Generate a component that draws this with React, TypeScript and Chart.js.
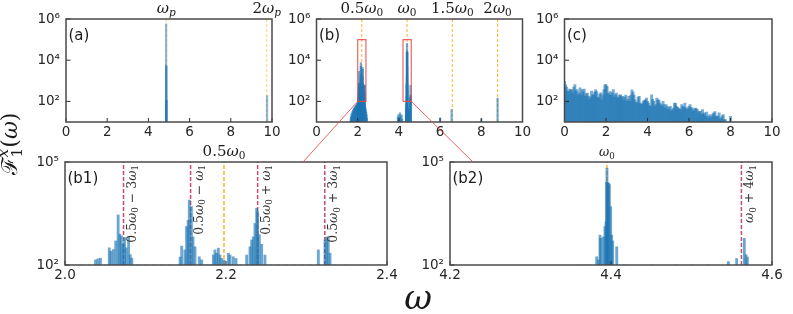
import React, { useEffect, useRef } from 'react';
import { Chart, registerables } from 'chart.js';

Chart.register(...registerables);

const W = 793;
const H = 314;
const YW = 40; // y-axis box width
const XH = 22; // x-axis box height

// ---------------- data ----------------
// ticks
const topXTicks = [0, 2, 4, 6, 8, 10];
const topYTicks = [1e2, 1e4, 1e6];
const b1XTicks = [2.0, 2.2, 2.4];
const b2XTicks = [4.2, 4.4, 4.6];
const zoomYTicks = [1e2, 1e5];

// panel (a)
const aFreq = [4.86, 4.865, 4.87, 4.872, 4.875, 9.76];
const aAmp = [580000, 5500, 5000, 120, 110, 190];
const aMarks = [4.87, 9.74];
const aMarkLabels = ['ω_p', '2ω_p'];

// panel (b) spectrum (also shown zoomed in b1 and b2)
const bFreq = [
  1.66, 1.68, 1.70, 1.72, 1.74, 1.76, 1.78, 1.80, 1.82, 1.84, 1.86, 1.88, 1.90, 1.92, 1.94, 1.96, 1.98,
  2.00, 2.01, 2.02, 2.03, 2.038, 2.041, 2.044, 2.05, 2.055, 2.057, 2.060, 2.063, 2.066, 2.068, 2.070,
  2.072, 2.074, 2.076, 2.079, 2.081, 2.083, 2.09, 2.10, 2.11, 2.12, 2.13, 2.143, 2.145, 2.149, 2.151,
  2.153, 2.1544, 2.157, 2.159, 2.1615, 2.1668, 2.1698, 2.175, 2.18, 2.1843, 2.1863, 2.1884, 2.1905,
  2.1925, 2.1946, 2.1975, 2.2029, 2.205, 2.209, 2.2124, 2.218, 2.2257, 2.2298, 2.2319, 2.2339, 2.236,
  2.2381, 2.2393, 2.2414, 2.2443, 2.2484, 2.255, 2.265, 2.275, 2.285, 2.295, 2.305, 2.3147, 2.323,
  2.325, 2.327, 2.3292, 2.335, 2.35, 2.37, 2.39, 2.41, 2.43, 2.45,
  3.95, 3.98, 4.02, 4.05, 4.08, 4.13, 4.16, 4.36, 4.37, 4.375, 4.3822, 4.3843, 4.3863, 4.3872, 4.3905,
  4.3925, 4.3938, 4.3945, 4.3950, 4.3960, 4.3970, 4.3980, 4.3996, 4.4008, 4.4021, 4.4071, 4.415, 4.42,
  4.45, 4.48, 4.50, 4.52, 4.5458, 4.5561, 4.5656, 4.5677, 4.5694,
  6.00, 6.56, 8.00, 8.79,
];
const bAmp = [
  14, 18, 25, 20, 32, 28, 40, 35, 48, 42, 55, 50, 62, 58, 70, 65, 80,
  72, 85, 78, 90, 141, 151, 158, 88, 316, 251, 282, 501, 2880, 794, 708,
  398, 631, 316, 631, 200, 158, 92, 85, 90, 88, 95, 170, 355, 275, 1320,
  2000, 7760, 5010, 660, 340, 174, 141, 92, 85, 195, 275, 220, 309,
  195, 155, 140, 220, 195, 174, 155, 90, 195, 339, 537, 660, 1620,
  4470, 3630, 760, 400, 195, 92, 85, 88, 80, 75, 70, 275, 537,
  660, 600, 220, 70, 60, 50, 40, 30, 22, 15,
  18, 23, 16, 28, 20, 22, 14, 40, 55, 70, 174, 141, 741, 600, 660,
  1320, 1800, 26000, 66000, 25000, 24000, 22000, 5000, 741, 500, 339, 60, 45,
  30, 35, 25, 40, 126, 155, 600, 200, 170,
  16, 40, 14, 145,
];
const bMarks = [2.1975, 4.395, 6.5925, 8.79];
const bMarkLabels = ['0.5ω_0', 'ω_0', '1.5ω_0', '2ω_0'];
const insetX1 = [2.0, 2.4];
const insetX2 = [4.2, 4.6];
const insetY = [1e2, 1e5];

// panel (c)
const cStart = 0;
const cStep = 0.05;
const cAmp = [
  930, 630, 500, 320, 300, 400, 350, 370, 250, 500, 650, 320, 370, 200, 260, 450, 200, 370, 280, 400,
  175, 225, 250, 175, 125, 160, 320, 200, 210, 280, 370, 300, 160, 145, 225, 260, 120, 200, 370, 630,
  650, 540, 250, 210, 300, 200, 260, 370, 160, 210, 250, 160, 145, 200, 210, 160, 175, 120, 160, 200,
  100, 125, 175, 100, 200, 360, 280, 200, 120, 90, 83, 160, 175, 83, 70, 76, 100, 112, 120, 145,
  100, 83, 63, 58, 210, 125, 100, 58, 70, 145, 112, 120, 83, 71, 58, 100, 70, 48, 70, 56,
  40, 50, 58, 33, 40, 48, 83, 80, 58, 52, 48, 40, 42, 70, 58, 50, 83, 50, 40, 45,
  58, 70, 50, 48, 33, 40, 48, 45, 40, 28, 32, 33, 23, 40, 25, 28, 20, 30, 16, 19,
  23, 16, 20, 25, 28, 32, 19, 18, 20, 28, 14, 16, 20, 23, 13, 13, 9, 8, 9, 9, 19,
];

// zoom panels
const b1Center = 2.1975;
const b1Marks = [2.0727, 2.156, 2.2393, 2.3227];
const b1MarkLabels = ['0.5ω_0 − 3ω_1', '0.5ω_0 − ω_1', '0.5ω_0 + ω_1', '0.5ω_0 + 3ω_1'];
const b2Center = 4.395;
const b2Marks = [4.562];
const b2MarkLabels = ['ω_0 + 4ω_1'];
const connect1 = { from: [2.0, 1e2], to: [2.2957, 1e5] };
const connect2 = { from: [4.6, 1e2], to: [4.2286, 1e5] };

// ---------------- styles ----------------
const ORANGE_A = 'rgba(255,165,0,0.45)';
const ORANGE = 'rgba(255,165,0,0.85)';
const CRIMSON = 'rgba(190,45,85,0.85)';
const RED = 'rgba(240,70,70,0.85)';
const SUP: Record<string, string> = { '0': '⁰', '1': '¹', '2': '²', '3': '³', '4': '⁴', '5': '⁵', '6': '⁶', '7': '⁷', '8': '⁸', '9': '⁹' };
const barColor = (alpha: number) => `rgba(31,119,180,${alpha})`;

function drawMath(ctx: CanvasRenderingContext2D, s: string, x: number, y: number, size: number, align: string, color: string) {
  const toks: { ch: string; kind: string }[] = [];
  for (let i = 0; i < s.length; i++) {
    const c = s[i];
    if ((c === '_' || c === '^') && i + 1 < s.length) {
      toks.push({ ch: s[i + 1], kind: c === '_' ? 'sub' : 'sup' });
      i++;
    } else toks.push({ ch: c, kind: 'n' });
  }
  const font = (ch: string, sz: number) => (/[a-zω]/.test(ch) ? 'italic ' : '') + sz + 'px "DejaVu Serif"';
  const items: { ch: string; sz: number; x: number; dy: number }[] = [];
  let pen = 0;
  let scriptStart = 0;
  let scriptW = 0;
  let prev = 'n';
  for (const t of toks) {
    const sz = t.kind === 'n' ? size : size * 0.7;
    ctx.font = font(t.ch, sz);
    const w = ctx.measureText(t.ch).width;
    if (t.kind === 'n') {
      items.push({ ch: t.ch, sz, x: pen, dy: 0 });
      pen += w;
    } else {
      const dy = t.kind === 'sub' ? size * 0.22 : -size * 0.42;
      if (prev !== 'n' && prev !== t.kind) {
        items.push({ ch: t.ch, sz, x: scriptStart, dy });
        scriptW = Math.max(scriptW, w);
        pen = scriptStart + scriptW;
      } else {
        scriptStart = pen;
        scriptW = w;
        items.push({ ch: t.ch, sz, x: pen, dy });
        pen += w;
      }
    }
    prev = t.kind;
  }
  const x0 = align === 'center' ? x - pen / 2 : align === 'right' ? x - pen : x;
  ctx.fillStyle = color;
  ctx.textAlign = 'left';
  ctx.textBaseline = 'alphabetic';
  items.forEach((it) => {
    ctx.font = font(it.ch, it.sz);
    ctx.fillText(it.ch, x0 + it.x, y + it.dy);
  });
}

type Spec = {
  id: string;
  L: number; T: number; R: number; B: number;
  xMin: number; xMax: number; yMin: number; yMax: number;
  xTicks: number[]; yTicks: number[]; xDec: number;
  points: { x: number; y: number }[];
  barW: number;
  barAlpha: number;
  marks: { x: number; color: string; width: number; dash: number[] }[];
  topLabels: { x: number; text: string; size: number }[];
  rotLabels: { x: number; text: string }[];
  label: string;
  rects: { x: number[]; y: number[] }[];
  connect?: { from: number[]; to: number[] };
  figureLabels?: boolean;
};

function makePlugin(spec: Spec, getB: () => Chart | null) {
  return {
    id: 'panel_' + spec.id,
    afterDraw(chart: any) {
      const ctx: CanvasRenderingContext2D = chart.ctx;
      const a = chart.chartArea;
      const xs = chart.scales.x;
      const ys = chart.scales.y;
      ctx.save();
      // inward ticks
      ctx.strokeStyle = '#2b2b2b';
      ctx.lineWidth = 1;
      ctx.beginPath();
      xs.ticks.forEach((t: any) => {
        const p = xs.getPixelForValue(t.value);
        ctx.moveTo(p, a.bottom);
        ctx.lineTo(p, a.bottom - 4);
      });
      ys.ticks.forEach((t: any) => {
        const p = ys.getPixelForValue(t.value);
        ctx.moveTo(a.left, p);
        ctx.lineTo(a.left + 4.5, p);
      });
      ctx.stroke();
      // frame
      ctx.strokeStyle = '#4a4a4a';
      ctx.lineWidth = 1.5;
      ctx.strokeRect(a.left, a.top, a.right - a.left, a.bottom - a.top);
      // panel label
      ctx.fillStyle = '#1a1a1a';
      ctx.font = '15px "DejaVu Sans"';
      ctx.textAlign = 'left';
      ctx.textBaseline = 'alphabetic';
      ctx.fillText(spec.label, a.left + 2.5, a.top + 20.5);
      // labels above the axes
      spec.topLabels.forEach((l) => drawMath(ctx, l.text, xs.getPixelForValue(l.x), a.top - 6, l.size, 'center', '#1a1a1a'));
      // rotated labels
      spec.rotLabels.forEach((l) => {
        ctx.save();
        ctx.translate(xs.getPixelForValue(l.x) + 12, a.top + 3);
        ctx.rotate(-Math.PI / 2);
        drawMath(ctx, l.text, 0, 0, 12.5, 'right', '#333');
        ctx.restore();
      });
      // connector line from the inset rectangle in (b)
      const bc = getB();
      if (spec.connect && bc) {
        const bx: any = bc.scales.x;
        const by: any = bc.scales.y;
        ctx.strokeStyle = RED;
        ctx.lineWidth = 1;
        ctx.beginPath();
        ctx.moveTo(bx.getPixelForValue(spec.connect.from[0]), by.getPixelForValue(spec.connect.from[1]));
        ctx.lineTo(xs.getPixelForValue(spec.connect.to[0]), ys.getPixelForValue(spec.connect.to[1]));
        ctx.stroke();
      }
      if (spec.figureLabels) {
        ctx.save();
        ctx.translate(17, 144);
        ctx.rotate(-Math.PI / 2);
        drawMath(ctx, 'ℱ_1^x(ω)', 0, 0, 22, 'center', '#1a1a1a');
        ctx.restore();
        drawMath(ctx, 'ω', 418, 309, 34, 'center', '#1a1a1a');
      }
      ctx.restore();
    },
  };
}

function makeConfig(spec: Spec, getB: () => Chart | null): any {
  const datasets: any[] = [
    {
      type: 'bar',
      data: spec.points,
      backgroundColor: barColor(spec.barAlpha),
      borderWidth: 0,
      barThickness: spec.barW,
      order: 1,
    },
  ];
  spec.marks.forEach((m) => {
    datasets.push({
      type: 'line',
      data: [
        { x: m.x, y: spec.yMin },
        { x: m.x, y: spec.yMax },
      ],
      borderColor: m.color,
      borderWidth: m.width,
      borderDash: m.dash,
      pointRadius: 0,
      fill: false,
      order: 2,
    });
  });
  spec.rects.forEach((r) => {
    datasets.push({
      type: 'line',
      data: [
        { x: r.x[0], y: r.y[0] },
        { x: r.x[1], y: r.y[0] },
        { x: r.x[1], y: r.y[1] },
        { x: r.x[0], y: r.y[1] },
        { x: r.x[0], y: r.y[0] },
      ],
      borderColor: RED,
      borderWidth: 1.2,
      pointRadius: 0,
      fill: false,
      order: 0,
    });
  });
  const tickFont = { family: '"DejaVu Sans"', size: 13.5 };
  return {
    type: 'bar',
    data: { datasets },
    options: {
      responsive: false,
      animation: false,
      devicePixelRatio: 1,
      events: [],
      layout: {
        padding: { left: spec.L - YW, top: spec.T, right: W - spec.R, bottom: H - spec.B - XH },
      },
      plugins: { legend: { display: false }, tooltip: { enabled: false } },
      scales: {
        x: {
          type: 'linear',
          min: spec.xMin,
          max: spec.xMax,
          offset: false,
          grid: { display: false, drawTicks: false },
          border: { display: false },
          ticks: {
            font: tickFont,
            color: '#262626',
            padding: 2,
            maxRotation: 0,
            autoSkip: false,
            callback: (v: number) => v.toFixed(spec.xDec),
          },
          afterBuildTicks: (s: any) => {
            s.ticks = spec.xTicks.map((v) => ({ value: v }));
          },
          afterFit: (s: any) => {
            s.height = XH;
          },
        },
        y: {
          type: 'logarithmic',
          min: spec.yMin,
          max: spec.yMax,
          grid: { display: false, drawTicks: false },
          border: { display: false },
          ticks: {
            font: tickFont,
            color: '#262626',
            padding: 6,
            autoSkip: false,
            callback: (v: number) => '10' + SUP[String(Math.round(Math.log10(v)))],
          },
          afterBuildTicks: (s: any) => {
            s.ticks = spec.yTicks.map((v) => ({ value: v }));
          },
          afterFit: (s: any) => {
            s.width = YW;
          },
        },
      },
    },
    plugins: [makePlugin(spec, getB)],
  };
}

const pts = (xs: number[], ys: number[]) => xs.map((x, i) => ({ x, y: ys[i] }));

export default function App() {
  const refs = [useRef<HTMLCanvasElement>(null), useRef<HTMLCanvasElement>(null), useRef<HTMLCanvasElement>(null), useRef<HTMLCanvasElement>(null), useRef<HTMLCanvasElement>(null)];

  useEffect(() => {
    let bChart: Chart | null = null;
    const getB = () => bChart;
    const cPoints = cAmp.map((y, i) => ({ x: cStart + i * cStep, y }));
    const top = { T: 19, B: 122, xMin: 0, xMax: 10, yMin: 10, yMax: 1e6, xTicks: topXTicks, yTicks: topYTicks, xDec: 0, rotLabels: [] as any[] };
    const bottom = { T: 162, B: 265, yMin: 1e2, yMax: 1e5, yTicks: zoomYTicks, xDec: 1, rects: [] as any[] };
    const specs: Spec[] = [
      {
        ...top, id: 'a', L: 66, R: 272, points: pts(aFreq, aAmp), barW: 1.6, barAlpha: 0.5,
        marks: aMarks.map((x) => ({ x, color: ORANGE_A, width: 1.2, dash: [3, 2] })),
        topLabels: aMarks.map((x, i) => ({ x, text: aMarkLabels[i], size: 15 })),
        label: '(a)', rects: [],
      },
      {
        ...top, id: 'b', L: 316.5, R: 522.5, points: pts(bFreq, bAmp), barW: 1.6, barAlpha: 0.6,
        marks: bMarks.map((x) => ({ x, color: ORANGE, width: 1, dash: [3, 2] })),
        topLabels: bMarks.map((x, i) => ({ x, text: bMarkLabels[i], size: 15 })),
        label: '(b)',
        rects: [{ x: insetX1, y: insetY }, { x: insetX2, y: insetY }],
      },
      {
        ...top, id: 'c', L: 564.5, R: 772, points: cPoints, barW: 2.3, barAlpha: 0.6,
        marks: [], topLabels: [], label: '(c)', rects: [],
      },
      {
        ...bottom, id: 'b1', L: 65, R: 387, xMin: 2.0, xMax: 2.4, xTicks: b1XTicks,
        points: pts(bFreq, bAmp), barW: 2.2, barAlpha: 0.65,
        marks: [
          { x: b1Center, color: ORANGE, width: 1.5, dash: [4, 2] },
          ...b1Marks.map((x) => ({ x, color: CRIMSON, width: 1.5, dash: [4, 2] })),
        ],
        topLabels: [{ x: b1Center, text: '0.5ω_0', size: 15 }],
        rotLabels: b1Marks.map((x, i) => ({ x, text: b1MarkLabels[i] })),
        label: '(b1)', connect: connect1, figureLabels: true,
      },
      {
        ...bottom, id: 'b2', L: 450, R: 772, xMin: 4.2, xMax: 4.6, xTicks: b2XTicks,
        points: pts(bFreq, bAmp), barW: 2.2, barAlpha: 0.65,
        marks: [
          { x: b2Center, color: ORANGE, width: 1.5, dash: [4, 2] },
          ...b2Marks.map((x) => ({ x, color: CRIMSON, width: 1.5, dash: [4, 2] })),
        ],
        topLabels: [{ x: b2Center, text: 'ω_0', size: 12.5 }],
        rotLabels: b2Marks.map((x, i) => ({ x, text: b2MarkLabels[i] })),
        label: '(b2)', connect: connect2,
      },
    ];
    const charts: Chart[] = [];
    specs.forEach((spec, i) => {
      const cv = refs[i].current;
      if (!cv) return;
      const ch = new Chart(cv, makeConfig(spec, getB));
      if (spec.id === 'b') bChart = ch;
      charts.push(ch);
    });
    return () => charts.forEach((c) => c.destroy());
  }, []);

  return (
    <div style={{ position: 'fixed', left: 0, top: 0, width: W, height: H, background: '#fff', overflow: 'hidden' }}>
      {refs.map((r, i) => (
        <canvas key={i} ref={r} width={W} height={H} style={{ position: 'absolute', left: 0, top: 0, width: W, height: H }} />
      ))}
    </div>
  );
}
